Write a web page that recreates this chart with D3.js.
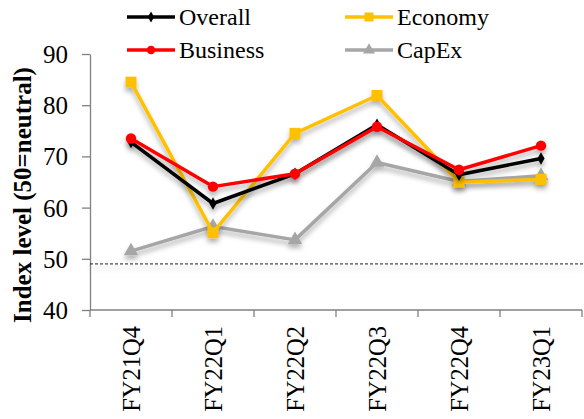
<!DOCTYPE html>
<html>
<head>
<meta charset="utf-8">
<script src="https://cdn.jsdelivr.net/npm/d3@7"></script>
<style>
  body { margin: 0; background: #fff; }
</style>
</head>
<body>
<div id="chart"></div>
<script>
const quarters = ["FY21Q4", "FY22Q1", "FY22Q2", "FY22Q3", "FY22Q4", "FY23Q1"];
const overall = [72.8, 60.8, 66.6, 76.2, 66.4, 69.6];
const economy = [84.5, 55.1, 74.5, 81.9, 65.0, 65.5];
const business = [73.5, 64.1, 66.6, 75.8, 67.4, 72.1];
const capex = [51.5, 56.3, 53.7, 68.8, 65.1, 66.2];
const yTicks = [40, 50, 60, 70, 80, 90];
const neutralLine = 49;

const series = [
  { name: "Overall", values: overall, color: "#000000", marker: "diamond" },
  { name: "Business", values: business, color: "#ff0000", marker: "circle" },
  { name: "Economy", values: economy, color: "#ffc000", marker: "square" },
  { name: "CapEx", values: capex, color: "#a6a6a6", marker: "triangle" }
];

const FONT = "Liberation Serif";
const W = 584, H = 419;
const margin = { top: 54, right: 2, bottom: 109, left: 90 };
const width = W - margin.left - margin.right;
const height = H - margin.top - margin.bottom;

const root = d3.select("#chart").append("svg")
    .attr("width", W)
    .attr("height", H);

const defs = root.append("defs");
const f = defs.append("filter").attr("id", "shadow")
    .attr("filterUnits", "userSpaceOnUse")
    .attr("x", -100).attr("y", -100).attr("width", W + 200).attr("height", H + 200);
f.append("feDropShadow")
    .attr("dx", 0).attr("dy", 4).attr("stdDeviation", 2.5)
    .attr("flood-color", "#000").attr("flood-opacity", 0.3);

const svg = root.append("g")
    .attr("transform", "translate(" + margin.left + "," + margin.top + ")");

const x = d3.scaleBand().domain(quarters).range([0, width]);
const y = d3.scaleLinear().domain([40, 90]).range([height, 0]);

// y axis
const yAxis = svg.append("g")
    .call(d3.axisLeft(y).tickValues(yTicks).tickSize(8).tickSizeOuter(0));
yAxis.attr("font-family", FONT).attr("font-size", 25);
yAxis.select(".domain").attr("stroke", "#808080").attr("stroke-width", 1.3);
yAxis.selectAll(".tick line").attr("stroke", "#808080").attr("stroke-width", 1.3);
yAxis.selectAll(".tick text")
    .attr("x", -22)
    .attr("dy", "0.34em")
    .attr("fill", "#000");

// x axis
const xTicksPos = d3.range(quarters.length + 1).map(i => i * x.bandwidth());
const xAxis = svg.append("g").attr("transform", "translate(0," + height + ")");
xAxis.append("line")
    .attr("x1", 0).attr("x2", width)
    .attr("stroke", "#808080").attr("stroke-width", 1.3);
xAxis.selectAll(".xt").data(xTicksPos).enter().append("line")
    .attr("x1", d => d).attr("x2", d => d)
    .attr("y1", 0).attr("y2", 7)
    .attr("stroke", "#808080").attr("stroke-width", 1.3);
xAxis.selectAll(".xl").data(quarters).enter().append("text")
    .attr("transform", d => "translate(" + (x(d) + x.bandwidth() / 2 + 9) + ",16) rotate(-90)")
    .attr("text-anchor", "end")
    .attr("font-family", FONT)
    .attr("font-size", 24.5)
    .text(d => d);

// neutral dashed line
svg.append("line")
    .attr("x1", 0).attr("x2", width + margin.right)
    .attr("y1", y(neutralLine)).attr("y2", y(neutralLine))
    .attr("stroke", "#222").attr("stroke-width", 1)
    .attr("stroke-dasharray", "3,2")
    .attr("filter", "url(#shadow)");

// y label
root.append("text")
    .attr("transform", "translate(31,195) rotate(-90)")
    .attr("text-anchor", "middle")
    .attr("font-family", FONT)
    .attr("font-size", 25)
    .attr("font-weight", "bold")
    .text("Index level (50=neutral)");

const line = d3.line()
    .x((d, i) => x(quarters[i]) + x.bandwidth() / 2)
    .y(d => y(d));

function drawMarker(g, type, color, size) {
  if (type === "circle") {
    g.append("circle").attr("r", size * 0.95).attr("fill", color);
  } else if (type === "square") {
    g.append("rect").attr("x", -size).attr("y", -size)
      .attr("width", size * 2).attr("height", size * 2).attr("fill", color);
  } else if (type === "diamond") {
    g.append("path").attr("d", d3.symbol(d3.symbolDiamond, size * size * 2.2)()).attr("fill", color);
  } else if (type === "triangle") {
    g.append("path").attr("d", d3.symbol(d3.symbolTriangle, size * size * 3)()).attr("fill", color);
  }
}

const drawOrder = ["CapEx", "Economy", "Overall", "Business"];
drawOrder.forEach(name => {
  const s = series.find(d => d.name === name);
  const g = svg.append("g").attr("filter", "url(#shadow)");
  g.append("path")
      .datum(s.values)
      .attr("d", line)
      .attr("fill", "none")
      .attr("stroke", s.color)
      .attr("stroke-width", 3.5)
      .attr("stroke-linejoin", "round");
  s.values.forEach((v, i) => {
    const m = g.append("g")
        .attr("transform", "translate(" + (x(quarters[i]) + x.bandwidth() / 2) + "," + y(v) + ")");
    drawMarker(m, s.marker, s.color, s.marker === "diamond" ? 4.5 : 5.5);
  });
});

// legend
const legendPos = [
  { name: "Overall", x: 127, y: 17 },
  { name: "Economy", x: 345, y: 17 },
  { name: "Business", x: 127, y: 50 },
  { name: "CapEx", x: 345, y: 50 }
];
legendPos.forEach(p => {
  const s = series.find(d => d.name === p.name);
  const g = root.append("g").attr("transform", "translate(" + p.x + "," + p.y + ")");
  g.append("line").attr("x1", 0).attr("x2", 48)
      .attr("stroke", s.color).attr("stroke-width", 3.5);
  const m = g.append("g").attr("transform", "translate(24,0)");
  drawMarker(m, s.marker, s.color, s.marker === "diamond" ? 4 : 4.5);
  g.append("text").attr("x", 52).attr("y", 8)
      .attr("font-family", FONT)
      .attr("font-size", 24)
      .text(s.name);
});
</script>
</body>
</html>
